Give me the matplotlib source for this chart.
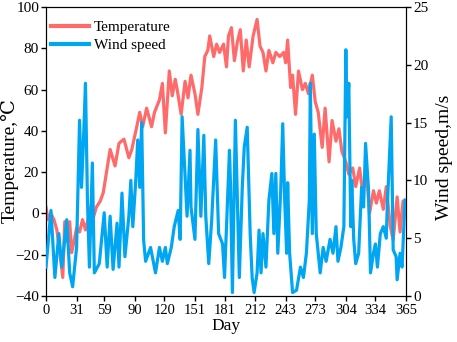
import matplotlib
matplotlib.use("Agg")
import matplotlib.pyplot as plt
import numpy as np

# values (day, value)
temp_days = [0, 2, 5, 8, 11, 14, 17, 19, 22, 24, 26, 29, 31, 34, 37, 40, 43, 46, 48, 51,
             55, 58, 61, 65, 70, 74, 79, 84, 87, 92, 95, 98, 102, 107, 110, 115, 118, 121,
             125, 128, 131, 133, 137, 141, 144, 147, 151, 154, 158, 161, 164, 166, 170,
             173, 176, 180, 183, 185, 188, 191, 194, 197, 200, 203, 206, 210, 214, 217,
             220, 223, 226, 230, 233, 237, 241, 243, 245, 248, 250, 253, 256, 260, 263,
             266, 270, 273, 276, 280, 283, 287, 290, 294, 297, 300, 304, 307, 311, 314,
             318, 321, 325, 328, 332, 335, 338, 342, 345, 349, 352, 356, 359, 362, 365]
temp_values = [3, -3, 0, -3, -8, -19, -31, -4, -14, -4, -19, -12, -7, -9, -3, -8, -2, 4, -2, 3,
               6, 10, 19, 31, 23, 34, 36, 27, 31, 42, 49, 42, 51, 42, 49, 55, 63, 39,
               69, 57, 65, 60, 48, 64, 56, 67, 58, 48, 61, 76, 79, 86, 76,
               82, 78, 82, 71, 86, 90, 74, 83, 89, 69, 84, 71, 86, 94, 81,
               78, 69, 79, 73, 78, 76, 78, 73, 84, 61, 67, 48, 69, 60, 63,
               58, 67, 54, 49, 32, 51, 25, 45, 35, 41, 30, 25, 19, 22, 13,
               22, 10, 19, 0, 11, 5, 11, 2, 13, -6, -13, 8, -9, 6, 0]

wind_days = [0, 2, 5, 9, 13, 16, 21, 24, 27, 31, 34, 36, 38, 40, 42, 44, 47, 49, 54, 59,
             62, 65, 68, 72, 74, 77, 80, 84, 86, 88, 91, 93, 95, 97, 99, 101, 106, 111,
             115, 118, 121, 123, 127, 130, 134, 136, 138, 141, 143, 146, 147, 151, 154,
             157, 160, 162, 165, 168, 172, 175, 179, 181, 184, 186, 187, 189, 192, 194,
             196, 199, 201, 204, 207, 209, 211, 214, 216, 218, 220, 223, 226, 229, 231,
             233, 235, 238, 240, 242, 244, 245, 247, 250, 254, 258, 261, 264, 267, 268,
             270, 272, 274, 278, 281, 284, 288, 291, 294, 296, 299, 302, 304, 305, 307,
             309, 310, 312, 314, 317, 320, 322, 324, 327, 329, 332, 334, 336, 339, 342,
             345, 346, 350, 352, 355, 356, 359, 361, 364]
wind_values = [2.5, 4.5, 7.4, 1.6, 5.4, 2.5, 6.6, 2.0, 0.8, 4.2, 15.2, 9.4, 13.5, 18.4, 8.3,
               2.5, 11.5, 2.0, 2.8, 7.2,
               2.5, 6.9, 2.3, 6.3, 2.5, 8.9, 3.4, 6.9, 10.0, 6.0, 10.0, 13.5, 9.4, 15.0,
               4.8, 3.0, 4.2, 2.0,
               4.2, 3.0, 4.2, 2.8, 4.2, 6.0, 7.4, 4.9, 15.5, 10.3, 6.9, 12.6, 7.7, 4.9, 14.4,
               6.9, 13.9, 6.9, 2.8, 6.6, 13.5, 5.4, 4.5, 1.6, 8.3, 12.6, 9.8, 0.3, 15.2, 8.3,
               1.6, 9.4, 12.9, 14.6, 5.4, 1.6, 0.3, 2.0, 5.7, 2.0, 5.4, 2.5, 8.3, 10.6, 5.4,
               10.6, 3.7, 9.2, 14.9, 8.3, 3.7, 9.8, 3.7, 0.3, 0.5, 2.5, 1.6, 3.7, 8.3, 18.4,
               5.4, 14.0, 5.4, 2.0, 4.2, 3.0, 4.9, 3.7, 6.0, 3.0, 4.2, 6.0, 21.3, 15.5, 18.4,
               6.0, 10.0, 4.9, 2.8, 3.7, 9.4, 7.7, 13.2, 9.2, 2.0, 3.7, 4.5, 2.5, 5.4, 6.0,
               5.0, 7.7, 15.5, 4.0, 3.4, 1.4, 3.7, 2.5, 8.3]

month_ticks = [0, 31, 59, 90, 120, 151, 181, 212, 243, 273, 304, 334, 365]

plt.rcParams["font.family"] = ["Liberation Serif", "DejaVu Serif"]

RED = "#ff6b6b"
BLUE = "#00a6f2"

fig = plt.figure(figsize=(4.57, 3.42), dpi=100)
ax = fig.add_axes([0.1007, 0.1345, 0.7877, 0.845])
ax2 = ax.twinx()

l1, = ax.plot(temp_days, temp_values, color=RED, lw=2.3, label="Temperature", zorder=2)
l2, = ax2.plot(wind_days, wind_values, color=BLUE, lw=2.3, label="Wind speed", zorder=3)

ax.set_xlim(0, 365)
ax.set_ylim(-40, 100)
ax2.set_ylim(0, 25)
ax.set_xticks(month_ticks)
ax.set_yticks(np.arange(-40, 101, 20))
ax2.set_yticks(np.arange(0, 26, 5))

for a in (ax, ax2):
    a.tick_params(labelsize=11, width=1, length=3.5, pad=1.5)
ax.tick_params(axis="x", labelsize=10.5, pad=2)

ax.set_xlabel("Day", fontsize=12.5, labelpad=1)
ax.set_ylabel("Temperature,\u2103", fontsize=14)
ax2.set_ylabel("Wind speed,m/s", fontsize=14)
ax.yaxis.set_label_coords(-0.075, 0.47)
ax2.yaxis.set_label_coords(1.083, 0.48)

leg = ax.legend(handles=[l1, l2], loc="upper left", frameon=False, fontsize=11,
                handlelength=2.5, handletextpad=0.3, labelspacing=0.3,
                borderpad=0.2, borderaxespad=0.0, bbox_to_anchor=(0.005, 0.965))
for line in leg.get_lines():
    line.set_linewidth(3)

fig.savefig("out.png", dpi=100)
